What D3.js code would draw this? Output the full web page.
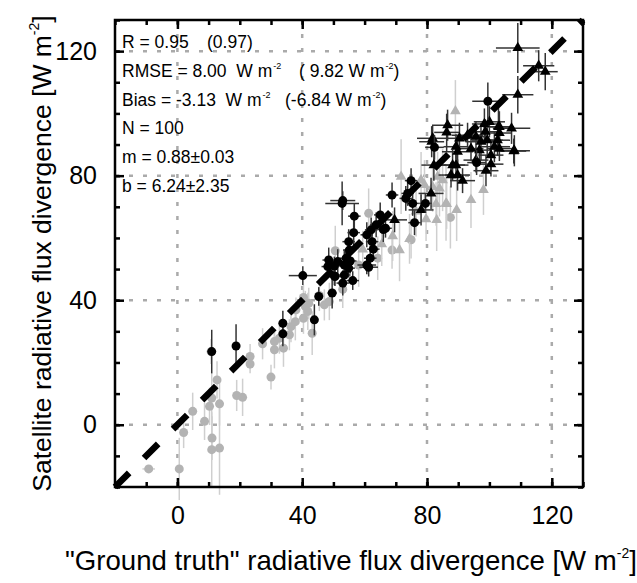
<!DOCTYPE html>
<html>
<head>
<meta charset="utf-8">
<script src="https://cdn.jsdelivr.net/npm/d3@7"></script>
<style>
  body { margin: 0; background: #fff; }
  text { font-family: "Liberation Sans", Arial, Helvetica, sans-serif; white-space: pre; }
</style>
</head>
<body>
<div id="chart"></div>
<script>
const width = 637;
const height = 583;

const margin = { top: 20, left: 115, bottom: 96, right: 54 };

// data: [x, y, xerr, yerr]
const grayCircles = [
    [-9.2, -14.2, 2, 1], [0.6, -14.2, 0.5, 10], [2.0, -2.5, 1, 5], [4.9, 4.3, 1, 6],
    [8.7, 1.1, 1, 6], [10.3, 5.9, 1, 6], [11.0, 8.6, 1, 8], [12.7, 14.4, 1, 6],
    [13.5, 6.7, 1, 7], [11.1, -4.3, 1, 7], [11.0, -8.0, 1, 12], [13.5, -7.5, 1, 15],
    [10.8, 23.5, 1, 4], [19.0, 9.4, 1, 5], [20.9, 8.8, 1, 6], [23.3, 21.9, 1, 4],
    [23.3, 19.5, 1, 3], [27.3, 26.0, 1, 5], [31.1, 24.1, 1, 6], [31.1, 26.7, 1, 4],
    [32.7, 27.8, 1, 5], [34.0, 24.6, 1, 6], [35.9, 28.9, 1, 5], [36.4, 31.5, 1, 5],
    [37.8, 33.1, 1, 6], [38.0, 36.9, 1, 4], [40.4, 34.2, 1, 5], [41.0, 38.0, 1, 5],
    [41.8, 36.4, 1, 6], [43.2, 29.4, 1, 7], [40.4, 40.9, 1, 4], [42.1, 39.0, 1, 5],
    [47.1, 38.5, 1, 5], [48.7, 39.6, 1, 6], [30.0, 15.3, 1, 4], [50.6, 55.9, 1, 8],
    [53.0, 43.5, 1, 6], [61.3, 67.9, 1, 8], [68.8, 56.1, 1, 6], [58.1, 51.3, 1, 7],
    [64.2, 53.5, 1, 7], [87.5, 66.6, 1, 10], [74.9, 59.4, 1, 6], [45.5, 41.5, 1, 5]
];

const grayTriangles = [
    [69.0, 60.6, 1, 8], [71.2, 56.1, 1, 10], [71.7, 79.7, 1, 12], [83.4, 79.7, 1, 8],
    [85.0, 78.6, 1, 10], [81.8, 76.4, 1, 8], [84.0, 75.9, 1, 9], [86.1, 71.1, 1, 12],
    [89.5, 69.0, 1, 10], [94.1, 72.2, 1, 9], [98.1, 75.4, 1, 8], [83.1, 65.8, 1, 10],
    [79.7, 66.0, 1, 7], [79.2, 77.0, 1, 8], [78.1, 78.6, 1, 9], [82.9, 70.9, 1, 7],
    [86.3, 70.9, 1, 8], [74.4, 59.7, 1, 8], [59.4, 56.3, 1, 6], [89.1, 100.7, 1, 10],
    [65.5, 58.0, 1, 7], [76.5, 68.5, 1, 8]
];

const blackCircles = [
    [11.0, 23.5, 1, 7], [18.8, 25.3, 1, 7], [40.2, 47.9, 4.5, 3], [33.8, 32.6, 1, 4],
    [33.8, 29.2, 1, 4], [43.9, 33.7, 1, 5], [45.3, 41.2, 1, 3], [49.6, 42.3, 1.5, 5],
    [48.2, 50.8, 2, 3], [53.0, 45.5, 2, 4], [56.2, 46.3, 2, 3], [53.5, 48.1, 2, 4],
    [53.5, 51.3, 2, 5], [48.5, 52.9, 2, 4], [50.5, 47.6, 2, 3], [51.4, 52.4, 2, 4],
    [54.9, 50.3, 2, 3], [55.4, 52.6, 2, 4], [54.9, 58.8, 2, 4], [56.5, 61.7, 2, 4],
    [56.7, 67.0, 2, 4], [52.8, 71.1, 5.4, 7], [53.0, 72.0, 4, 3], [55.1, 56.1, 2, 3],
    [54.1, 53.5, 2, 3], [50.3, 51.0, 2, 3], [50.3, 47.8, 2, 3], [60.7, 61.0, 2, 4],
    [62.1, 62.6, 2, 4], [63.7, 64.2, 2, 4], [65.0, 67.4, 2, 4], [66.7, 63.1, 2, 3],
    [62.4, 58.8, 2, 3], [62.8, 56.4, 2, 3], [61.8, 53.5, 2, 4], [60.7, 51.3, 3, 3],
    [61.3, 50.6, 3, 3], [68.8, 73.8, 2, 4], [73.2, 72.7, 2, 4], [74.9, 78.4, 2, 4],
    [73.8, 74.3, 2, 4], [75.4, 71.1, 2, 4], [79.5, 71.1, 2, 3], [76.0, 64.9, 2, 4],
    [82.4, 89.1, 3, 4], [95.9, 84.2, 3, 4], [99.5, 103.9, 5, 6], [66.0, 62.7, 2, 4]
];

const blackTriangles = [
    [109.1, 121.0, 7, 8], [115.8, 115.3, 5, 5], [117.9, 113.4, 4, 6], [109.1, 106.0, 5, 6],
    [107.1, 95.2, 6, 5], [107.8, 87.9, 4, 4], [102.9, 95.7, 5, 6], [100.0, 97.3, 5, 5],
    [98.4, 96.6, 4, 5], [98.7, 94.1, 4, 4], [99.3, 91.4, 5, 5], [86.6, 96.2, 5, 5],
    [86.3, 93.9, 4, 6], [81.8, 92.0, 5, 4], [81.5, 90.9, 4, 5], [90.4, 92.0, 4, 5],
    [93.0, 93.0, 5, 4], [95.7, 92.5, 4, 5], [97.3, 90.9, 5, 6], [94.1, 88.7, 4, 4],
    [96.8, 88.2, 4, 5], [101.6, 89.3, 5, 5], [103.2, 88.7, 4, 4], [100.5, 86.6, 4, 5],
    [95.7, 85.0, 4, 4], [89.8, 87.7, 5, 5], [89.3, 89.3, 4, 4], [82.2, 83.4, 4, 5],
    [87.7, 80.2, 4, 4], [89.8, 80.2, 4, 5], [91.4, 78.4, 4, 4], [88.2, 83.4, 4, 5],
    [89.3, 83.4, 4, 4], [98.9, 81.6, 4, 5], [100.5, 83.7, 4, 4], [108.0, 88.0, 5, 5],
    [78.1, 69.0, 4, 5], [81.3, 74.3, 4, 5], [69.6, 65.8, 4, 4], [103.2, 95.7, 4, 5],
    [103.2, 93.7, 4, 4], [102.6, 91.4, 4, 5]
];

const majorTicks = [0, 40, 80, 120];
const minorTicks = [-20, -10, 0, 10, 20, 30, 40, 50, 60, 70, 80, 90, 100, 110, 120, 130];
const domain = [-20, 130];

const statsLeft = [
    ["R = 0.95", null],
    ["RMSE = 8.00  W m", "-2"],
    ["Bias = -3.13  W m", "-2"],
    ["N = 100", null],
    ["m = 0.88\u00b10.03", null],
    ["b = 6.24\u00b12.35", null]
];
const statsRight = [
    ["(0.97)", 207],
    ["( 9.82 W m", 299],
    ["(-6.84 W m", 285]
];

const xScale = d3.scaleLinear().domain(domain).range([margin.left, width - margin.right]);
const yScale = d3.scaleLinear().domain(domain).range([height - margin.bottom, margin.top]);

const svg = d3.select("#chart").append("svg").attr("width", width).attr("height", height);

// grid
const grid = svg.append("g").attr("stroke", "#aaa").attr("stroke-width", 2.5).attr("stroke-dasharray", "4,10");
grid.selectAll("line.gx").data(majorTicks).join("line")
    .attr("x1", d => xScale(d)).attr("x2", d => xScale(d))
    .attr("y1", yScale(130)).attr("y2", yScale(-20));
grid.selectAll("line.gy").data(majorTicks).join("line")
    .attr("class", "gy")
    .attr("y1", d => yScale(d)).attr("y2", d => yScale(d))
    .attr("x1", xScale(-20)).attr("x2", xScale(130));

// error bars + points
function drawSeries(data, barColor, fill, shape) {
    const g = svg.append("g");
    g.selectAll("line.h").data(data).join("line")
        .attr("x1", d => xScale(d[0] - d[2])).attr("x2", d => xScale(d[0] + d[2]))
        .attr("y1", d => yScale(d[1])).attr("y2", d => yScale(d[1]))
        .attr("stroke", barColor).attr("stroke-width", 1.5);
    g.selectAll("line.v").data(data).join("line")
        .attr("x1", d => xScale(d[0])).attr("x2", d => xScale(d[0]))
        .attr("y1", d => yScale(d[1] - d[3])).attr("y2", d => yScale(d[1] + d[3]))
        .attr("stroke", barColor).attr("stroke-width", 1.5);
    if (shape === "circle") {
        g.selectAll("circle").data(data).join("circle")
            .attr("cx", d => xScale(d[0])).attr("cy", d => yScale(d[1]))
            .attr("r", 4.5).attr("fill", fill);
    } else {
        g.selectAll("path").data(data).join("path")
            .attr("d", d3.symbol(d3.symbolTriangle, 50))
            .attr("transform", d => `translate(${xScale(d[0])},${yScale(d[1])})`)
            .attr("fill", fill);
    }
}

drawSeries(grayCircles, "#cfcfcf", "#b3b3b3", "circle");
drawSeries(grayTriangles, "#cfcfcf", "#b3b3b3", "triangle");
drawSeries(blackTriangles, "#333", "#000", "triangle");
drawSeries(blackCircles, "#333", "#000", "circle");

// 1:1 line
svg.append("line")
    .attr("x1", xScale(-20)).attr("y1", yScale(-20))
    .attr("x2", xScale(130)).attr("y2", yScale(130))
    .attr("stroke", "#000").attr("stroke-width", 6.5)
    .attr("stroke-dasharray", "20,21");

// axes: ticks on all sides, pointing inward
const bottom = height - margin.bottom;
const right = width - margin.right;

svg.append("g").attr("transform", `translate(0,${bottom})`)
    .call(d3.axisBottom(xScale).tickValues(minorTicks).tickSize(-5).tickFormat(""));
svg.append("g").attr("transform", `translate(0,${bottom})`)
    .call(d3.axisBottom(xScale).tickValues(majorTicks).tickSize(-9).tickPadding(19));
svg.append("g").attr("transform", `translate(0,${margin.top})`)
    .call(d3.axisTop(xScale).tickValues(minorTicks).tickSize(-5).tickFormat(""));
svg.append("g").attr("transform", `translate(0,${margin.top})`)
    .call(d3.axisTop(xScale).tickValues(majorTicks).tickSize(-9).tickFormat(""));
svg.append("g").attr("transform", `translate(${margin.left},0)`)
    .call(d3.axisLeft(yScale).tickValues(minorTicks).tickSize(-5).tickFormat(""));
svg.append("g").attr("transform", `translate(${margin.left},0)`)
    .call(d3.axisLeft(yScale).tickValues(majorTicks).tickSize(-9).tickPadding(18));
svg.append("g").attr("transform", `translate(${right},0)`)
    .call(d3.axisRight(yScale).tickValues(minorTicks).tickSize(-5).tickFormat(""));
svg.append("g").attr("transform", `translate(${right},0)`)
    .call(d3.axisRight(yScale).tickValues(majorTicks).tickSize(-9).tickFormat(""));

svg.selectAll(".domain").remove();
svg.selectAll(".tick line").attr("stroke", "#000").attr("stroke-width", 2.5);
svg.selectAll(".tick text").attr("font-size", 25).attr("fill", "#000")
    .attr("font-family", "Liberation Sans, Arial, sans-serif");

svg.append("rect")
    .attr("x", margin.left).attr("y", margin.top)
    .attr("width", right - margin.left).attr("height", bottom - margin.top)
    .attr("fill", "none").attr("stroke", "#000").attr("stroke-width", 2.5);

// stats text
const statsG = svg.append("g").attr("font-size", 17.5).attr("fill", "#000");
statsLeft.forEach((s, i) => {
    const t = statsG.append("text").attr("x", 122).attr("y", 48 + i * 28.8).text(s[0]);
    if (s[1]) t.append("tspan").attr("font-size", 9).attr("dx", 1).attr("dy", -8).text(s[1]);
});
statsRight.forEach((s, i) => {
    const t = statsG.append("text").attr("x", s[1]).attr("y", 48 + i * 28.8).text(s[0]);
    if (i > 0) {
        t.append("tspan").attr("font-size", 9).attr("dx", 1).attr("dy", -8).text("-2");
        t.append("tspan").attr("dy", 8).text(")");
    }
});

// axis titles
const xt = svg.append("text")
    .attr("x", (margin.left + right) / 2 + 2).attr("y", 570)
    .attr("text-anchor", "middle").attr("font-size", 27.6)
    .text("\"Ground truth\" radiative flux divergence [W m");
xt.append("tspan").attr("font-size", 14).attr("dy", -12).text("-2");
xt.append("tspan").attr("dy", 12).text("]");

const yt = svg.append("text")
    .attr("transform", `translate(51,${(margin.top + bottom) / 2}) rotate(-90)`)
    .attr("text-anchor", "middle").attr("font-size", 26.5)
    .text("Satellite radiative flux divergence [W m");
yt.append("tspan").attr("font-size", 14).attr("dy", -12).text("-2");
yt.append("tspan").attr("dy", 12).text("]");
</script>
</body>
</html>
